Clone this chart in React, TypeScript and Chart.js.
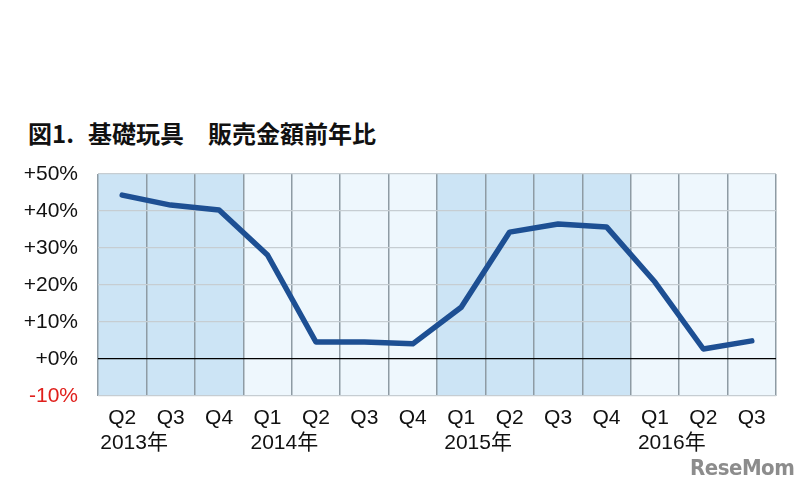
import React, { useEffect, useRef } from "react";
import { Chart, registerables } from "chart.js";

Chart.register(...registerables);

const titleParts = ["図1.", "基礎玩具", "販売金額前年比"];
const quarters = ["Q2", "Q3", "Q4", "Q1", "Q2", "Q3", "Q4", "Q1", "Q2", "Q3", "Q4", "Q1", "Q2", "Q3"];
const years = ["2013年", "2013年", "2013年", "2014年", "2014年", "2014年", "2014年", "2015年", "2015年", "2015年", "2015年", "2016年", "2016年", "2016年"];
const yearLabels = [
  { index: 0, text: "2013年" },
  { index: 3, text: "2014年" },
  { index: 7, text: "2015年" },
  { index: 11, text: "2016年" },
];
const growth = [44.3, 41.6, 40.3, 28.1, 4.6, 4.6, 4.1, 14.0, 34.3, 36.5, 35.7, 20.8, 2.7, 4.9];
const yMin = -10;
const yMax = 50;
const darkYears = ["2013年", "2015年"];

const FONT = "'Liberation Sans', Arial, 'Noto Sans CJK JP', sans-serif";

const bandPlugin = {
  id: "bands",
  beforeDraw(chart: any) {
    const { ctx, chartArea, scales } = chart;
    const x = scales.x;
    ctx.save();
    const n = quarters.length;
    for (let i = 0; i < n; i++) {
      const c = x.getPixelForValue(i);
      const half = (chartArea.right - chartArea.left) / n / 2;
      ctx.fillStyle = darkYears.includes(years[i]) ? "#cce4f5" : "#eef7fd";
      ctx.fillRect(c - half, chartArea.top, half * 2, chartArea.bottom - chartArea.top);
    }
    ctx.restore();
  },
  afterDraw(chart: any) {
    const { ctx, chartArea, scales } = chart;
    const x = scales.x;
    ctx.save();
    ctx.font = `21px ${FONT}`;
    ctx.fillStyle = "#111";
    ctx.textAlign = "left";
    ctx.textBaseline = "middle";
    for (const y of yearLabels) {
      const c = x.getPixelForValue(y.index);
      const off = y.index === 0 ? 22 : 17;
      ctx.fillText(y.text, c - off, chartArea.bottom + 47);
    }
    ctx.restore();
  },
};

export default function App() {
  const ref = useRef<HTMLCanvasElement>(null);
  useEffect(() => {
    const chart = new Chart(ref.current!, {
      type: "line",
      data: {
        labels: quarters,
        datasets: [
          {
            data: growth,
            borderColor: "#1d4f93",
            borderWidth: 5.5,
            pointRadius: 0,
            tension: 0,
            borderCapStyle: "round",
            borderJoinStyle: "round",
          },
        ],
      },
      options: {
        animation: false,
        responsive: false,
        layout: { padding: { top: 174, right: 24, left: 0, bottom: 0 } },
        plugins: { legend: { display: false }, tooltip: { enabled: false } },
        scales: {
          x: {
            offset: true,
            grid: { offset: true, color: "#8e9ba4", lineWidth: 1.5, drawTicks: false },
            border: { display: false },
            ticks: { color: "#111", font: { size: 21, family: FONT }, padding: 10, maxRotation: 0, autoSkip: false },
            afterFit: (s: any) => { s.height = 96; },
          },
          y: {
            min: yMin,
            max: yMax,
            grid: {
              color: (c: any) => (c.tick && c.tick.value === 0 ? "#000" : "#c6cdd2"),
              lineWidth: 1.2,
              drawTicks: false,
            },
            border: { display: false },
            ticks: {
              stepSize: 10,
              padding: 20,
              font: { size: 21, family: FONT },
              color: (c: any) => (c.tick && c.tick.value < 0 ? "#e0201c" : "#111"),
              callback: (v: any) => (v >= 0 ? `+${v}%` : `${v}%`),
            },
            afterFit: (s: any) => { s.width = 98; },
          },
        },
      },
      plugins: [bandPlugin],
    } as any);
    return () => chart.destroy();
  }, []);

  return (
    <div style={{ position: "absolute", left: 0, top: 0, width: 800, height: 492, background: "#fff" }}>
      <div
        style={{
          position: "absolute",
          left: 28,
          top: 118,
          fontFamily: "'Noto Sans CJK JP', sans-serif",
          fontWeight: 700,
          fontSize: 24,
          color: "#111",
          whiteSpace: "pre",
          lineHeight: "30px",
        }}
      >
        <span style={{ marginRight: 14 }}>{titleParts[0]}</span>
        <span style={{ marginRight: 24 }}>{titleParts[1]}</span>
        <span>{titleParts[2]}</span>
      </div>
      <canvas ref={ref} width={800} height={492} style={{ position: "absolute", left: 0, top: 0 }} />
      <div
        style={{
          position: "absolute",
          left: 690,
          top: 455,
          fontFamily: "'DejaVu Sans Condensed', 'DejaVu Sans', sans-serif",
          fontWeight: 700,
          fontSize: 22,
          color: "#8c8c8c",
          letterSpacing: -0.5,
        }}
      >
        ReseMom
      </div>
    </div>
  );
}
